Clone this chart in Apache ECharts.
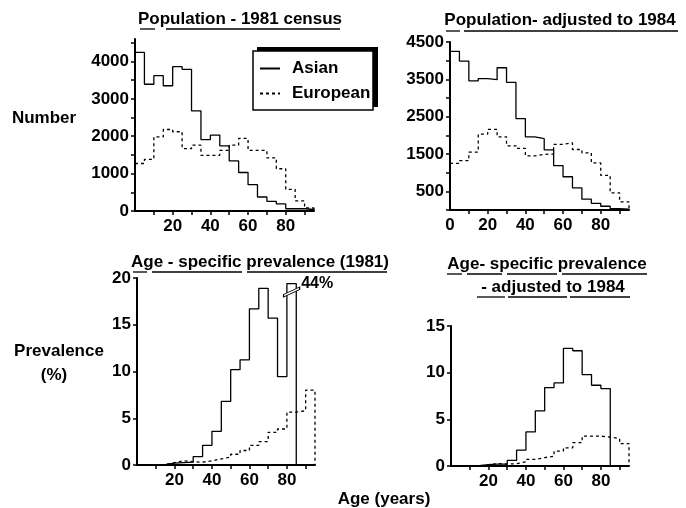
<!DOCTYPE html>
<html>
<head>
<meta charset="utf-8">
<script src="https://cdn.jsdelivr.net/npm/echarts@6/dist/echarts.min.js"></script>
<style>
html,body{margin:0;padding:0;background:#fff;}
#chart{width:686px;height:508px;}
</style>
</head>
<body>
<div id="chart"></div>
<script>
// 5-year age groups, left edge of each bin
let ageStart = [0,5,10,15,20,25,30,35,40,45,50,55,60,65,70,75,80,85,90];
let binWidth = 5;

// population - 1981 census
let pop1981Asian    = [4240,3390,3620,3350,3860,3790,2680,1910,2030,1740,1340,1030,705,375,260,190,60,60,40];
let pop1981European = [1270,1380,1980,2180,2120,1670,1760,1490,1490,1620,1760,1940,1620,1620,1420,1130,580,270,80];
// population - adjusted to 1984
let pop1984Asian    = [4250,3990,3460,3520,3490,3810,3420,2450,1960,1910,1610,1190,890,590,290,180,100,35,20];
let pop1984European = [1250,1320,1550,2030,2160,1960,1720,1650,1450,1490,1500,1760,1800,1620,1530,1260,930,460,220];
// age-specific prevalence (%) 1981, Asian stops at 85
let prev1981Asian    = [0,0,0.05,0.2,0.25,0.3,0.9,2.1,3.6,6.8,10.2,11.25,16.7,18.9,15.7,9.45,44];
let prev1981European = [0,0,0.05,0.25,0.45,0.35,0.3,0.45,0.65,0.85,1.15,1.55,2.1,2.5,3.5,3.85,5.65,5.8,8.0];
// age-specific prevalence (%) adjusted to 1984
let prev1984Asian    = [0,0,0.05,0.15,0.2,0.2,0.6,1.7,3.65,5.9,8.4,8.9,12.6,12.35,9.8,8.65,8.3];
let prev1984European = [0,0,0,0.15,0.25,0.2,0.25,0.45,0.7,0.9,1.05,1.6,1.95,2.5,3.2,3.2,3.1,2.95,2.4];
let breakTop = 19.4; // 80-85 Asian bar drawn broken (real value 44%)

// tick labels
let ageTicks = [10,20,30,40,50,60,70,80,90];
let ageLabels = [20,40,60,80];
let ageLabels0 = [0,20,40,60,80];
let pop1981Ticks = [0,500,1000,1500,2000,2500,3000,3500,4000,4500];
let pop1981Labels = [0,1000,2000,3000,4000];
let pop1984Ticks = [0,500,1000,1500,2000,2500,3000,3500,4000,4500];
let pop1984Labels = [500,1500,2500,3500,4500];
let prev1981Labels = [0,5,10,15,20];
let prev1984Labels = [0,5,10,15];

const FONT = '"Liberation Sans", Arial, sans-serif';
const labelStyle = {color:'#000', fontSize:17, fontWeight:'bold', fontFamily:FONT,
    formatter:function (v) { return String(v); }};

// bins -> points for a step outline closed down to the axis at the end
function steps(vals, cap) {
    let pts = vals.map(function (v, i) {
        return [ageStart[i], cap ? Math.min(v, cap) : v];
    });
    let end = ageStart[vals.length - 1] + binWidth;
    let last = pts[pts.length - 1][1];
    pts.push([end, last]);
    pts.push([end, 0]);
    return pts;
}

function xAxis(grid, labels) {
    return {
        type:'value', gridIndex:grid, min:0, max:95,
        splitLine:{show:false},
        axisLine:{lineStyle:{color:'#000', width:2}},
        axisTick:{customValues:ageTicks, length:4, lineStyle:{color:'#000', width:1.5}},
        axisLabel:Object.assign({customValues:labels, margin:7}, labelStyle)
    };
}
function yAxis(grid, max, ticks, labels) {
    return {
        type:'value', gridIndex:grid, min:0, max:max,
        splitLine:{show:false},
        axisLine:{show:true, lineStyle:{color:'#000', width:2}},
        axisTick:{show:true, customValues:ticks, length:4, lineStyle:{color:'#000', width:1.5}},
        axisLabel:Object.assign({customValues:labels, margin:6}, labelStyle)
    };
}
function series(name, grid, data, dashed, extra) {
    return Object.assign({
        name:name, type:'line', step:'end', xAxisIndex:grid, yAxisIndex:grid,
        data:data, symbol:'none', silent:true,
        lineStyle:{color:'#000', width:1.3, type:dashed ? [3,3] : 'solid'},
        itemStyle:{color:'#000'}
    }, extra || {});
}

function text(x, y, str) {
    return {type:'text', x:x, y:y, style:{text:str, align:'center', verticalAlign:'middle',
        font:'bold 17px ' + FONT, fill:'#000'}};
}
function uline(x1, x2, y) {
    return {type:'line', shape:{x1:x1, y1:y, x2:x2, y2:y}, style:{stroke:'#000', lineWidth:1.3}};
}

let myEcharts = echarts.init(document.getElementById('chart'), null, {renderer:'canvas'});
let option = {
    animation:false,
    backgroundColor:'#fff',
    grid:[
        {left:135, top:39, width:179, height:172},
        {left:450, top:42, width:179, height:168},
        {left:137, top:278, width:178, height:187},
        {left:451, top:326, width:178, height:140}
    ],
    xAxis:[xAxis(0, ageLabels), xAxis(1, ageLabels0), xAxis(2, ageLabels), xAxis(3, ageLabels)],
    yAxis:[
        yAxis(0, 4600, pop1981Ticks, pop1981Labels),
        yAxis(1, 4500, pop1984Ticks, pop1984Labels),
        yAxis(2, 20, prev1981Labels, prev1981Labels),
        yAxis(3, 15, prev1984Labels, prev1984Labels)
    ],
    legend:{
        data:['Asian','European'],
        orient:'vertical', left:253, top:51,
        itemWidth:20, itemHeight:10, itemGap:8,
        padding:[9,6,9,6],
        selectedMode:false,
        itemStyle:{opacity:0},
        textStyle:{color:'#000', fontSize:17, fontWeight:'bold', fontFamily:FONT, padding:[0,0,0,7]}
    },
    series:[
        series('Asian', 0, steps(pop1981Asian)),
        series('European', 0, steps(pop1981European), true),
        series('Asian', 1, steps(pop1984Asian)),
        series('European', 1, steps(pop1984European), true),
        series('Asian', 2, steps(prev1981Asian, breakTop), false, {
            markPoint:{
                symbol:'path://M0,9 L16,0 L16,3 L0,12 Z',
                symbolSize:[16,10],
                itemStyle:{color:'#fff', borderColor:'#000', borderWidth:1},
                label:{show:true, position:'right', distance:1, offset:[0,-8],
                    formatter:'{c}%', color:'#000', fontSize:16, fontWeight:'bold',
                    fontFamily:FONT},
                data:[{coord:[ageStart[16] + binWidth / 2, 18.5], value:prev1981Asian[16]}]
            }
        }),
        series('European', 2, steps(prev1981European), true),
        series('Asian', 3, steps(prev1984Asian)),
        series('European', 3, steps(prev1984European), true)
    ],
    graphic:[
        // legend frame with heavy offset edge at top and right
        {type:'rect', z:1, shape:{x:257, y:47, width:121, height:60}, style:{fill:'#000'}},
        {type:'rect', z:2, shape:{x:253, y:51, width:120, height:59},
            style:{fill:'#fff', stroke:'#000', lineWidth:1.5}},
        text(240, 19, 'Population - 1981 census'),
        uline(140, 155, 29), uline(166, 340, 29),
        text(560, 20, 'Population- adjusted to 1984'),
        uline(446, 460, 31), uline(464, 678, 31),
        text(44, 118, 'Number'),
        text(260, 262, 'Age - specific prevalence (1981)'),
        uline(133, 147, 272), uline(152, 242, 272), uline(247, 387, 272),
        text(547, 264, 'Age- specific prevalence'),
        uline(447, 462, 274), uline(467, 502, 274), uline(507, 557, 274), uline(562, 647, 274),
        text(553, 287, '- adjusted to 1984'),
        uline(477, 505, 297), uline(508, 567, 297), uline(570, 630, 297),
        text(59, 351, 'Prevalence'),
        text(54, 375, '(%)'),
        text(384, 499, 'Age (years)')
    ]
};
myEcharts.setOption(option);
</script>
</body>
</html>
